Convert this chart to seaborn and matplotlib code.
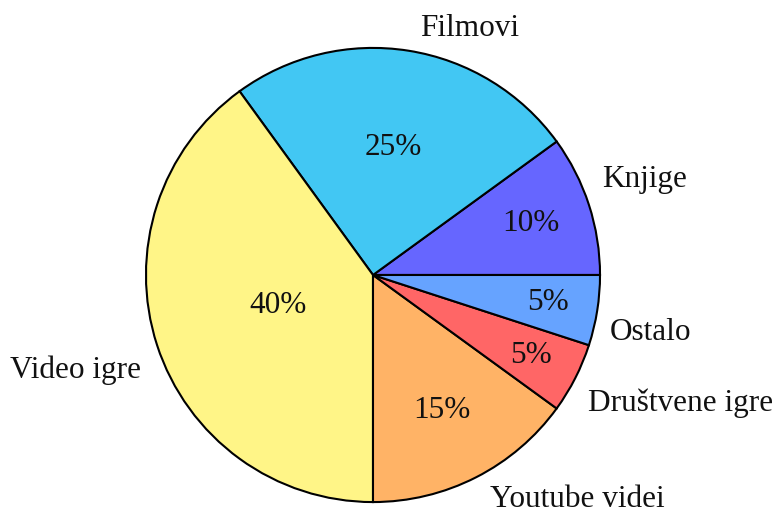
import numpy as np
import matplotlib
matplotlib.use('Agg')
import matplotlib.pyplot as plt
import seaborn as sns

# ── Data ──────────────────────────────────────────────────────────────────────
categories = ['Knjige', 'Filmovi', 'Video igre', 'Youtube videi',
              'Društvene igre', 'Ostalo']
shares = [10, 25, 40, 15, 5, 5]
colors = ['#6666FF', '#42C7F3', '#FFF587', '#FFB366', '#FF6666', '#66A3FF']

# ── Styling ───────────────────────────────────────────────────────────────────
sns.set_theme(style='white')
plt.rcParams['font.family'] = ['Liberation Serif', 'DejaVu Serif']

# radial placement of the percent numbers (fraction of radius) per slice
pct_radius = [0.73, 0.57, 0.44, 0.67, 0.78, 0.78]
# nudge of the outer labels (data units, radius = 1)
label_nudge = [(-0.035, 0.08), (0.035, 0.0), (0.025, -0.08),
               (0.015, -0.01), (-0.035, -0.065), (-0.045, -0.08)]

fig = plt.figure(figsize=(7.78, 5.15), dpi=100)
ax = fig.add_axes([0, 0, 1, 1])

wedges, texts = ax.pie(shares, labels=categories, colors=colors,
                       startangle=0, counterclock=True, labeldistance=1.1,
                       wedgeprops={'edgecolor': 'black', 'linewidth': 1.5},
                       textprops={'fontsize': 22.5, 'color': '#111111'})

for w, t, (dx, dy) in zip(wedges, texts, label_nudge):
    x, y = t.get_position()
    t.set_position((x + dx, y + dy))

for w, val, r in zip(wedges, shares, pct_radius):
    mid = np.deg2rad((w.theta1 + w.theta2) / 2)
    ax.text(r * np.cos(mid), r * np.sin(mid), f'{val}%', ha='center',
            va='center', fontsize=22.5, color='#111111')

ax.set_aspect('auto')
ax.set_xlim(-1.643, 1.784)
ax.set_ylim(-1.057, 1.211)
ax.axis('off')

fig.savefig('out.png', dpi=100, facecolor='white')
